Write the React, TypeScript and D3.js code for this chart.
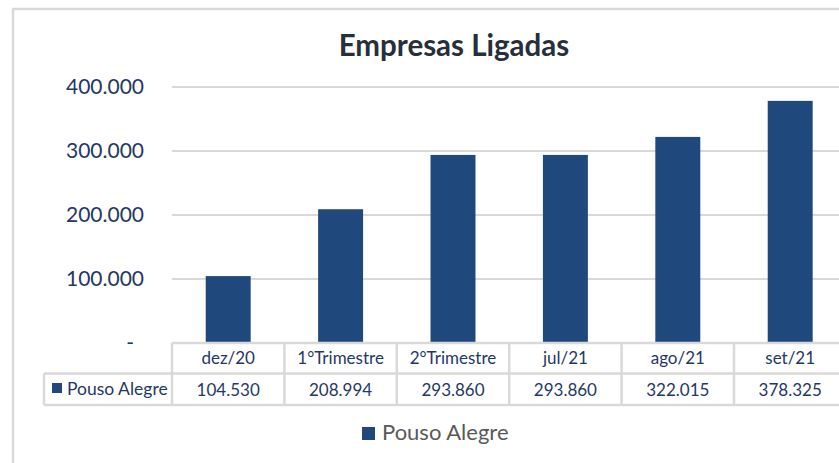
import React, { useEffect, useRef } from 'react'
import * as d3 from 'd3'

// chart data
const categories = ['dez/20', '1°Trimestre', '2°Trimestre', 'jul/21', 'ago/21', 'set/21']
const seriesName = 'Pouso Alegre'
const values = [104530, 208994, 293860, 293860, 322015, 378325]
const yTicks = [0, 100000, 200000, 300000, 400000]
const title = 'Empresas Ligadas'

const W = 839
const H = 463
const barColor = '#1f497d'
const textColor = '#1f3864'
const lineColor = '#d9d9d9'
const font = 'Lato, "Open Sans", sans-serif'

const locale = d3.formatLocale({ decimal: ',', thousands: '.', grouping: [3], currency: ['', ''] })
const fmt = locale.format(',d')

const drawChart = (el: SVGSVGElement) => {
    const svg = d3.select(el)
    svg.selectAll('*').remove()

    const margin = { top: 87, left: 172, bottom: 343 }
    const colWidth = 112.4

    // outer frame
    svg.append('rect')
        .attr('x', 13).attr('y', 9)
        .attr('width', W + 20).attr('height', H + 20)
        .attr('fill', 'white')
        .attr('stroke', lineColor)
        .attr('stroke-width', 2.5)

    svg.append('text')
        .attr('x', 454).attr('y', 56)
        .attr('text-anchor', 'middle')
        .attr('font-family', font)
        .attr('font-weight', 'bold')
        .attr('font-size', 29.5)
        .attr('fill', '#262f3b')
        .text(title)

    const x = d3.scaleBand<string>()
        .domain(categories)
        .range([margin.left, margin.left + colWidth * categories.length])
        .paddingInner(0.6)
        .paddingOuter(0.3)
    const y = d3.scaleLinear()
        .domain([0, 400000])
        .range([margin.bottom, margin.top])

    // gridlines
    svg.append('g')
        .selectAll('line')
        .data(yTicks.filter(t => t > 0))
        .enter()
        .append('line')
        .attr('x1', margin.left).attr('x2', W)
        .attr('y1', d => y(d)).attr('y2', d => y(d))
        .attr('stroke', lineColor)
        .attr('stroke-width', 2)

    // y labels
    svg.append('g')
        .selectAll('text')
        .data(yTicks)
        .enter()
        .append('text')
        .attr('x', d => d === 0 ? 134 : 144)
        .attr('y', d => y(d) + 7)
        .attr('text-anchor', 'end')
        .attr('font-family', font)
        .attr('font-size', 21)
        .attr('fill', textColor)
        .text(d => d === 0 ? '-' : fmt(d))

    // bars
    svg.append('g')
        .selectAll('rect')
        .data(values)
        .enter()
        .append('rect')
        .attr('x', (d, i) => x(categories[i]))
        .attr('y', d => y(d))
        .attr('width', x.bandwidth())
        .attr('height', d => y(0) - y(d))
        .attr('fill', barColor)

    // data table
    const row1 = 343, row2 = 373.5, row3 = 405
    const tableLeft = 44
    const table = svg.append('g')
        .attr('stroke', lineColor)
        .attr('stroke-width', 2.5)
    table.append('line').attr('x1', margin.left).attr('x2', W).attr('y1', row1).attr('y2', row1)
    table.append('line').attr('x1', tableLeft).attr('x2', W).attr('y1', row2).attr('y2', row2)
    table.append('line').attr('x1', tableLeft).attr('x2', W).attr('y1', row3).attr('y2', row3)
    table.append('line').attr('x1', tableLeft).attr('x2', tableLeft).attr('y1', row2).attr('y2', row3)
    table.selectAll('.col')
        .data(categories)
        .enter()
        .append('line')
        .attr('class', 'col')
        .attr('x1', (d, i) => margin.left + colWidth * i)
        .attr('x2', (d, i) => margin.left + colWidth * i)
        .attr('y1', row1).attr('y2', row3)

    const cx = (d: string) => x(d) + x.bandwidth() / 2
    svg.append('g')
        .selectAll('text')
        .data(categories)
        .enter()
        .append('text')
        .attr('x', d => cx(d))
        .attr('y', row1 + 21)
        .attr('text-anchor', 'middle')
        .attr('font-family', font)
        .attr('font-size', 17)
        .attr('fill', textColor)
        .text(d => d)
    svg.append('g')
        .selectAll('text')
        .data(values)
        .enter()
        .append('text')
        .attr('x', (d, i) => cx(categories[i]))
        .attr('y', row2 + 22)
        .attr('text-anchor', 'middle')
        .attr('font-family', font)
        .attr('font-size', 17)
        .attr('fill', textColor)
        .text(d => fmt(d))

    // series key in table
    svg.append('rect')
        .attr('x', 52).attr('y', 383)
        .attr('width', 10).attr('height', 10)
        .attr('fill', barColor)
    svg.append('text')
        .attr('x', 67).attr('y', row2 + 21)
        .attr('font-family', font)
        .attr('font-size', 17.5)
        .attr('fill', textColor)
        .text(seriesName)

    // legend
    svg.append('rect')
        .attr('x', 362).attr('y', 427)
        .attr('width', 13).attr('height', 13)
        .attr('fill', barColor)
    svg.append('text')
        .attr('x', 382).attr('y', 440)
        .attr('font-family', font)
        .attr('font-size', 22)
        .attr('fill', '#595959')
        .text(seriesName)
}

export default function App() {
    const ref = useRef<SVGSVGElement>(null)
    useEffect(() => {
        if (ref.current) drawChart(ref.current)
    }, [])
    return (
        <svg ref={ref} width={W} height={H}
            style={{ position: 'absolute', left: 0, top: 0, background: 'white' }} />
    )
}
